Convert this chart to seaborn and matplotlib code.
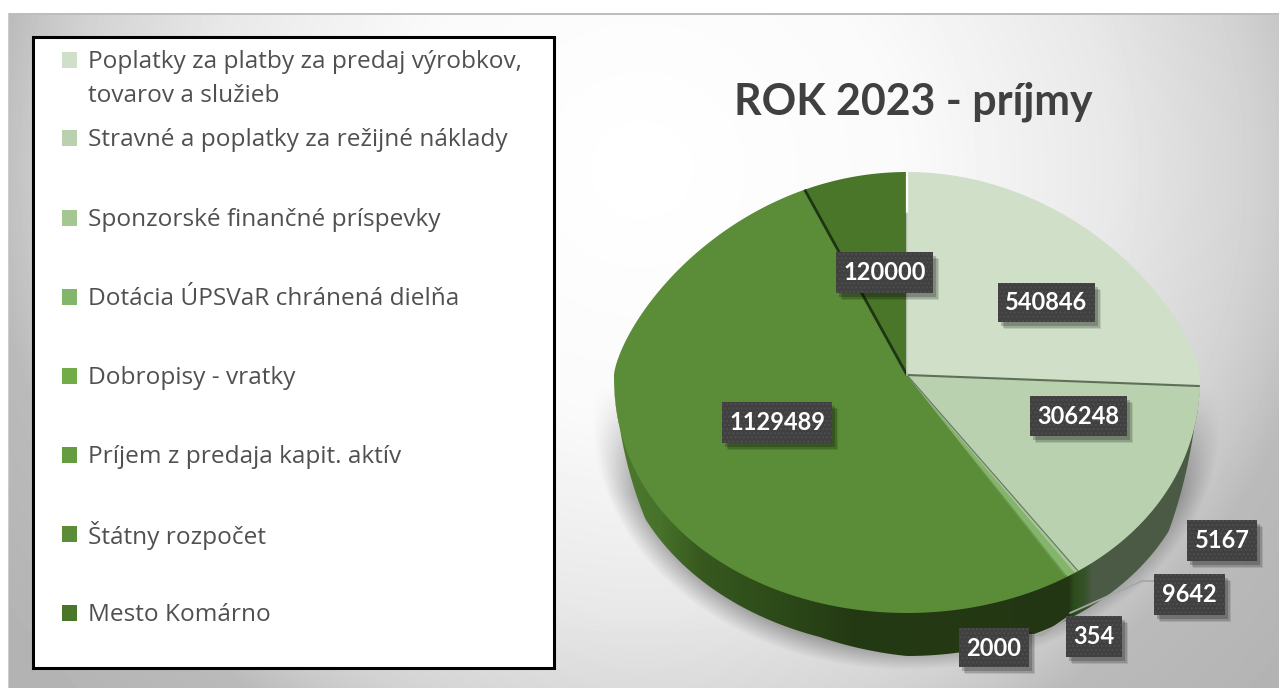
import numpy as np
import matplotlib
matplotlib.use("Agg")
import matplotlib.pyplot as plt
import seaborn as sns
from matplotlib.patches import Polygon, Rectangle
from matplotlib.path import Path
from matplotlib.transforms import Affine2D

# ---------- data ----------
title = "ROK 2023 - príjmy"
categories = ["Poplatky za platby za predaj výrobkov,\ntovarov a služieb",
              "Stravné a poplatky za režijné náklady",
              "Sponzorské finančné príspevky",
              "Dotácia ÚPSVaR chránená dielňa",
              "Dobropisy - vratky",
              "Príjem z predaja kapit. aktív",
              "Štátny rozpočet",
              "Mesto Komárno"]
values = [540846, 306248, 5167, 9642, 354, 2000, 1129489, 120000]

# ---------- style ----------
slice_colors = ["#cfdfc8", "#b9d1ae", "#a4c690", "#83b56a",
                "#70ad47", "#659c3f", "#5b8c38", "#4a762a"]
W, H = 1279, 688
CX, CY, RX = 907, 375, 293
RY_UP, RY_DOWN, P_UP, P_DOWN = 203.0, 238.0, 1.4, 0.93
# label boxes in pixels: left, right, top, bottom
label_boxes = [(998, 1095, 283, 322), (1030, 1127, 396, 436), (1187, 1257, 520, 561),
               (1154, 1225, 574, 615), (1066, 1122, 616, 657), (959, 1029, 628, 667),
               (722, 832, 402, 443), (836, 933, 252, 293)]
legend_y = [60, 138, 218, 297, 376, 455, 534, 613]
leaders = [([1070, 1142, 1154], [613, 581, 581]), ([1029, 1042, 1067], [635, 635, 618])]

sns.set_theme(style="white")
palette = sns.color_palette(slice_colors)
FONT = "Open Sans"

fig = plt.figure(figsize=(W / 100, H / 100), dpi=100)
fig.patch.set_facecolor("white")


def canvas(z):
    a = fig.add_axes([0, 0, 1, 1], zorder=z)
    a.set_xlim(0, W)
    a.set_ylim(H, 0)
    a.axis("off")
    a.patch.set_visible(False)
    return a


bg = canvas(0)
top = canvas(2)


# perspective warp of the pie's vertical axis (unit circle -> pixels above centre)
def fwd(y):
    y = np.asarray(y, dtype=float)
    return np.where(y >= 0, RY_UP * np.abs(y) ** P_UP, -RY_DOWN * np.abs(y) ** P_DOWN)


def inv(f):
    f = np.asarray(f, dtype=float)
    return np.where(f >= 0, (np.abs(f) / RY_UP) ** (1 / P_UP), -(np.abs(f) / RY_DOWN) ** (1 / P_DOWN))


# background gradient plus soft shadow
yy, xx = np.mgrid[0:H, 0:W] + 0.5
dx = xx - 640
dx = np.where(dx > 0, dx * 0.93, dx)
d = np.hypot(dx, yy - 170)
shade = np.interp(d, [0, 250, 440, 500, 565, 613, 650, 800], [1, .98, .91, .87, .83, .78, .73, .70])
r = np.hypot((xx - 907) / 314, (yy - 420) / 250)
sh = 0.34 * np.clip((1 - r) / 0.10, 0, 1) * np.clip((yy - 385) / 110, 0, 1)
shade = shade * (1 - sh)
shade[(xx < 8) | (yy < 13)] = 1
shade[(yy >= 13) & (yy < 15) & (xx >= 8)] = 0.74
shade[(xx >= 8) & (xx < 9) & (yy >= 13)] = 0.8
bg.imshow(shade, cmap="gray", vmin=0, vmax=1, extent=(0, W, H, 0), aspect="auto", zorder=0)
bg.set_xlim(0, W)
bg.set_ylim(H, 0)

# rim of the 3D pie
th = np.linspace(0, np.pi, 400)
rx = CX + RX * np.cos(th)
ry = CY - fwd(-np.sin(th))
dep = np.interp(np.cos(th), [-1, -.3, 0, 1], [30, 34, 43, 43])
dep = dep * np.clip((np.sin(th) - .2) / .25, 0, 1)
rim = Polygon(np.r_[np.c_[rx, ry - 2], np.c_[rx, ry + dep][::-1]], closed=True,
              transform=bg.transData, facecolor="none", edgecolor="none")
bg.add_patch(rim)
stops_x = [614, 660, 700, 780, 850, 1068, 1074, 1084, 1092, 1200]
stops_c = ["#4e7a2f", "#47722a", "#37591f", "#2c4a19", "#243a13", "#233613",
           "#2d4d1c", "#36522a", "#4a5a45", "#4a5a45"]
cols = np.arange(600, 1215)
rgb = np.array([matplotlib.colors.to_rgb(c) for c in stops_c])
grad = np.stack([np.interp(cols, stops_x, rgb[:, i]) for i in range(3)], axis=1)[None, :, :]
im = bg.imshow(grad, extent=(600, 1215, 680, 380), aspect="auto", zorder=1)
im.set_clip_path(rim)
bg.set_xlim(0, W)
bg.set_ylim(H, 0)

# top face of the pie
ax = fig.add_axes([0, 0, 1, 1], zorder=1)
wedges, _ = ax.pie(values, colors=palette, startangle=90, counterclock=False, radius=1,
                   wedgeprops={"linewidth": 0})
for w in wedges:
    poly = w.get_path().transformed(Affine2D().scale(3000)).to_polygons(closed_only=True)[0]
    w._path = Path(poly / 3000)
ax.set_aspect("auto")
ax.set_xlim(-CX / RX, (W - CX) / RX)
ax.set_yscale("function", functions=(fwd, inv))
ylim = (float(inv(-(H - CY))), float(inv(CY)))
ax.set_ylim(*ylim)
ax.axis("off")
ax.patch.set_visible(False)

# seams between the slices
fractions = np.cumsum(values) / np.sum(values)


def seam(frac, color, lw):
    a = 2 * np.pi * frac
    ax.plot([0, np.sin(a)], [0, np.cos(a)], color=color, lw=lw,
            solid_capstyle="butt", zorder=5)


seam(fractions[0], "#5f6f58", 1.5)
seam(fractions[1], "#66756a", 0.8)
seam(fractions[6], "#1d3510", 2.0)
ax.plot([0, 0], [0.85, 1], color="white", lw=1.6, zorder=6)
ax.plot([0, 0], [0, 0.85], color="#c9cec4", lw=1.2, zorder=6)
ax.set_xlim(-CX / RX, (W - CX) / RX)
ax.set_ylim(*ylim)

# leader lines
for lx, ly in leaders:
    top.plot(lx, ly, color="#a6a6a6", lw=1.3, zorder=1)

# data labels
for val, (l, rr, t, b) in zip(values, label_boxes):
    for off, al in [(7, .10), (5.5, .14), (4, .20)]:
        top.add_patch(Rectangle((l + off - 1, t + off), rr - l, b - t, facecolor="black",
                                alpha=al, edgecolor="none", zorder=2))
    top.add_patch(Rectangle((l, t), rr - l, b - t, facecolor="#404040", edgecolor="none", zorder=3))
    top.add_patch(Rectangle((l, t), rr - l, b - t, facecolor="none", edgecolor="#4e4e4e",
                            hatch="....", lw=0, zorder=3))
    top.text((l + rr) / 2, (t + b) / 2 + 0.5, str(val), color="white", ha="center", va="center",
             fontsize=17, fontweight="bold", family="Lato", zorder=4)

# title
top.text(913.5, 102, title, color="#404040", ha="center", va="center", fontsize=30.9,
         fontweight="bold", family="Lato", zorder=4)

# legend panel
bg.add_patch(Rectangle((33, 37), 521, 631, facecolor="white", edgecolor="black", lw=2.2, zorder=3))
for i, (name, y) in enumerate(zip(categories, legend_y)):
    top.add_patch(Rectangle((62, y - 8), 14.5, 16, facecolor=palette[i], edgecolor="none", zorder=3))
    lines = name.split("\n")
    for j, line in enumerate(lines):
        top.text(88, y + 2 + j * 34, line, color="#505050", ha="left", va="center",
                 fontsize=17.6, family=FONT, zorder=4)

fig.savefig("out.png", dpi=100)
